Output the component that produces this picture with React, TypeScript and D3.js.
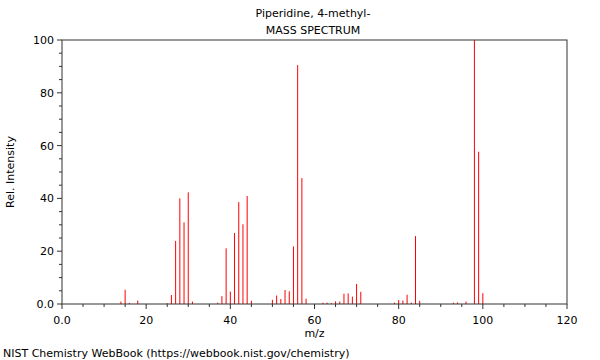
import React from "react";
import * as d3 from "d3";

const title1 = "Piperidine, 4-methyl-";
const title2 = "MASS SPECTRUM";
const footer = "NIST Chemistry WebBook (https://webbook.nist.gov/chemistry)";

const mz = [14, 15, 16, 18, 25, 26, 27, 28, 29, 30, 31, 37, 38, 39, 40, 41, 42, 43, 44, 45,
  50, 51, 52, 53, 54, 55, 56, 57, 58, 62, 63, 64, 65, 66, 67, 68, 69, 70, 71,
  79, 80, 81, 82, 83, 84, 85, 93, 94, 96, 98, 99, 100];
const intensity = [0.9, 5.4, 0.4, 1.3, 0.3, 3.4, 23.9, 40.0, 30.9, 42.3, 0.9, 0.5, 3.0, 21.1, 4.7, 26.9, 38.6, 30.2, 40.9, 1.2,
  1.6, 3.2, 1.9, 5.3, 4.8, 21.8, 90.5, 47.7, 2.0, 0.5, 0.5, 0.3, 1.0, 0.9, 3.9, 4.0, 2.8, 7.6, 4.6,
  0.5, 1.5, 1.3, 3.5, 0.5, 25.7, 1.2, 0.5, 0.6, 0.9, 100, 57.7, 4.1];

const xTicks = [0, 20, 40, 60, 80, 100, 120];
const yTicks = [0, 20, 40, 60, 80, 100];

export default function App() {
  const W = 600, H = 360;
  const left = 62, right = 567, top = 40, bottom = 304;
  const x = d3.scaleLinear().domain([0, 120]).range([left, right]);
  const y = d3.scaleLinear().domain([0, 100]).range([bottom, top]);
  const xMinor = d3.range(0, 121, 5);
  const yMinor = d3.range(0, 101, 5);
  const axisColor = "#333";
  const font = "DejaVu Sans, sans-serif";
  const fmt = (v: number) => (v === 0 ? "0.0" : String(v));
  return (
    <svg width={W} height={H} style={{ position: "absolute", left: 0, top: 0 }} fontFamily={font}>
      <rect x={0} y={0} width={W} height={H} fill="white" />
      <text x={313} y={17} fontSize={11} textAnchor="middle" fill="#000">{title1}</text>
      <text x={313} y={34} fontSize={11} textAnchor="middle" fill="#000">{title2}</text>
      {mz.map((m, i) => (
        <line key={m} x1={x(m)} x2={x(m)} y1={y(0)} y2={y(intensity[i])} stroke="#ff0000" strokeWidth={1} />
      ))}
      <rect x={left} y={top} width={right - left} height={bottom - top} fill="none" stroke={axisColor} strokeWidth={1} />
      {xMinor.map((v) => (
        <line key={"xm" + v} x1={x(v)} x2={x(v)} y1={bottom} y2={bottom + (v % 20 === 0 ? 5 : 3)} stroke={axisColor} />
      ))}
      {yMinor.map((v) => (
        <line key={"ym" + v} x1={left} x2={left - (v % 20 === 0 ? 5 : 3)} y1={y(v)} y2={y(v)} stroke={axisColor} />
      ))}
      {xTicks.map((v) => (
        <text key={"xt" + v} x={x(v)} y={bottom + 20} fontSize={11} textAnchor="middle" fill="#000">{fmt(v)}</text>
      ))}
      {yTicks.map((v) => (
        <text key={"yt" + v} x={left - 8} y={y(v) + 4} fontSize={11} textAnchor="end" fill="#000">{fmt(v)}</text>
      ))}
      <text x={(left + right) / 2} y={337} fontSize={11} textAnchor="middle" fill="#000">m/z</text>
      <text transform={`translate(14,${(top + bottom) / 2}) rotate(-90)`} fontSize={11} textAnchor="middle" fill="#000">Rel. Intensity</text>
      <text x={3} y={357} fontSize={11} fill="#000">{footer}</text>
    </svg>
  );
}
